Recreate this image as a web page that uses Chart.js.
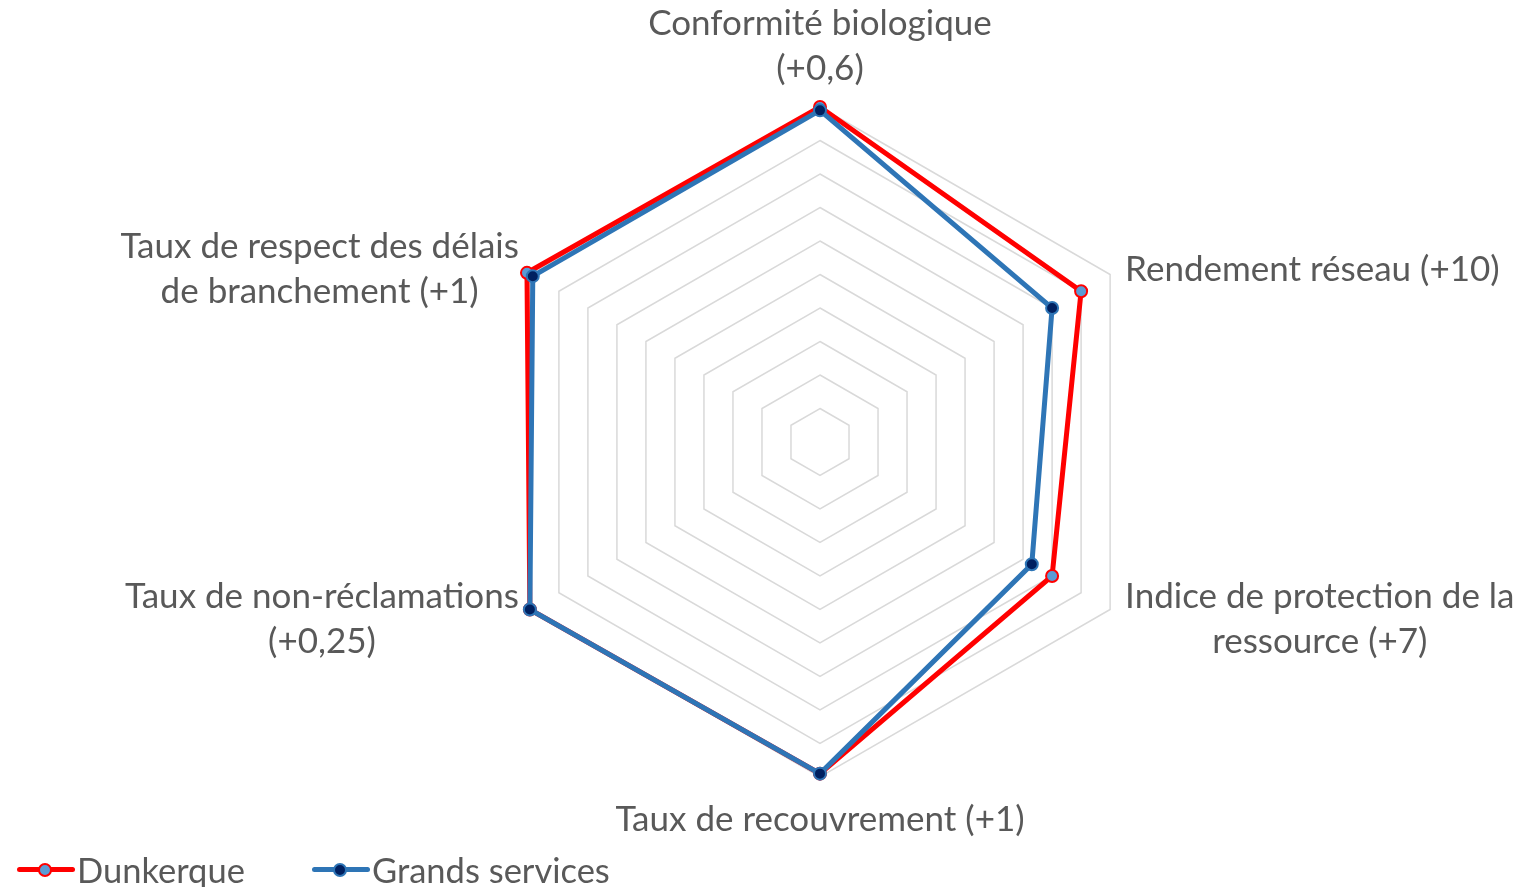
<!DOCTYPE html>
<html lang="fr">
<head>
<meta charset="utf-8">
<title>Radar</title>
<script src="https://cdn.jsdelivr.net/npm/chart.js@4.4.1/dist/chart.umd.min.js"></script>
<style>
    html, body { margin: 0; padding: 0; background: #fff; }
    .wrap { position: relative; width: 1518px; height: 887px; overflow: hidden; }
    .legend-item {
        position: absolute; top: 850px; height: 40px; line-height: 40px;
        font-family: Lato, sans-serif; font-size: 34.5px; color: #595959; white-space: nowrap;
    }
    .legend-sym { position: absolute; top: 17px; width: 58px; height: 5px; border-radius: 3px; }
    .legend-sym i {
        position: absolute; left: 23px; top: -4.5px; width: 10px; height: 10px;
        border-radius: 50%; border: 2px solid; box-sizing: content-box; margin-left: -2px;
    }
</style>
</head>
<body>
<div class="wrap">
    <canvas id="radarChart" width="1518" height="887"></canvas>
    <div class="legend-item" style="left:17px;">
        <span class="legend-sym" style="left:0; background:#FF0000;"><i style="background:#5B9BD5; border-color:#FF0000;"></i></span>
        <span style="position:absolute; left:60px;">Dunkerque</span>
    </div>
    <div class="legend-item" style="left:312px;">
        <span class="legend-sym" style="left:0; background:#2E75B6;"><i style="background:#002060; border-color:#2E75B6;"></i></span>
        <span style="position:absolute; left:60px;">Grands services</span>
    </div>
</div>
<script>
const axisLabels = [
    ["Conformité biologique", "(+0,6)"],
    ["Rendement réseau (+10)"],
    ["Indice de protection de la", "ressource (+7)"],
    ["Taux de recouvrement (+1)"],
    ["Taux de non-réclamations", "(+0,25)"],
    ["Taux de respect des délais", "de branchement (+1)"]
];
const dunkerqueValues = [1.0, 0.90, 0.80, 0.99, 1.0, 1.01];
const grandsServicesValues = [0.99, 0.80, 0.73, 0.99, 1.0, 0.99];
const scaleMin = 0;
const scaleMax = 1;
const scaleStep = 0.1;

// labels drawn by hand so multi-line blocks stay centred like in Excel
const axisLabelPlugin = {
    id: "axisLabels",
    afterDraw(chart) {
        const scale = chart.scales.r;
        const ctx = chart.ctx;
        const lineH = 45;
        ctx.save();
        ctx.font = "35px Lato";
        ctx.fillStyle = "#595959";
        ctx.textAlign = "center";
        ctx.textBaseline = "middle";
        chart.data.labels.forEach((lines, i) => {
            const p = scale.getPointPosition(i, scale.drawingArea);
            const blockW = Math.max(...lines.map(l => ctx.measureText(l).width));
            const blockH = lines.length * lineH;
            const dx = p.x - scale.xCenter;
            let cx, top;
            if (Math.abs(dx) < 1) {
                cx = p.x;
                top = p.y < scale.yCenter ? p.y - 16 - blockH : p.y + 20;
            } else {
                cx = dx > 0 ? p.x + 15 + blockW / 2 : p.x - 11 - blockW / 2;
                top = p.y - blockH / 2 + (p.y < scale.yCenter ? -5 : 10);
            }
            lines.forEach((l, k) => ctx.fillText(l, cx, top + lineH * (k + 0.5)));
        });
        ctx.restore();
    }
};

document.addEventListener("DOMContentLoaded", () => {
    const ctx = document.getElementById("radarChart").getContext("2d");

    new Chart(ctx, {
        type: "radar",
        data: {
            labels: axisLabels,
            datasets: [
                {
                    label: "Dunkerque",
                    data: dunkerqueValues,
                    borderColor: "#FF0000",
                    borderWidth: 5,
                    backgroundColor: "#5B9BD5",
                    pointBackgroundColor: "#5B9BD5",
                    pointBorderColor: "#FF0000",
                    pointBorderWidth: 2,
                    pointRadius: 6,
                    fill: false,
                    order: 1
                },
                {
                    label: "Grands services",
                    data: grandsServicesValues,
                    borderColor: "#2E75B6",
                    borderWidth: 5,
                    backgroundColor: "#002060",
                    pointBackgroundColor: "#002060",
                    pointBorderColor: "#2E75B6",
                    pointBorderWidth: 2,
                    pointRadius: 6,
                    fill: false,
                    order: 0
                }
            ]
        },
        options: {
            responsive: false,
            animation: false,
            layout: {
                padding: { left: 420, right: 298, top: 107, bottom: 110 }
            },
            plugins: {
                legend: { display: false },
                tooltip: { enabled: false }
            },
            scales: {
                r: {
                    min: scaleMin,
                    max: scaleMax,
                    ticks: { stepSize: scaleStep, display: false },
                    grid: { color: "#D9D9D9", lineWidth: 1.5 },
                    angleLines: { display: false },
                    pointLabels: { display: false }
                }
            }
        },
        plugins: [axisLabelPlugin]
    });
});
</script>
</body>
</html>
